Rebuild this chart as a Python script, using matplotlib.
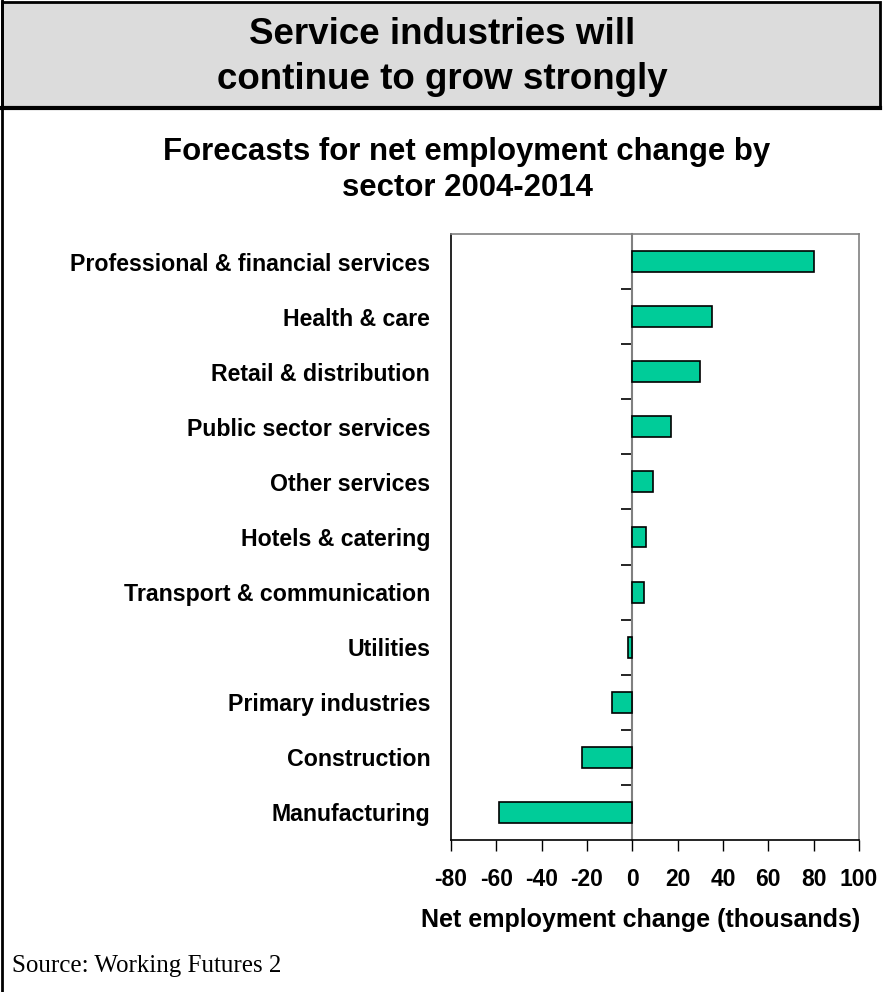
import matplotlib.pyplot as plt
from matplotlib.patches import Rectangle

plt.rcParams['font.family'] = ['Liberation Sans', 'DejaVu Sans']

sectors = [
    'Professional & financial services',
    'Health & care',
    'Retail & distribution',
    'Public sector services',
    'Other services',
    'Hotels & catering',
    'Transport & communication',
    'Utilities',
    'Primary industries',
    'Construction',
    'Manufacturing',
]
change = [80, 35, 30, 17, 9, 6, 5, -1.8, -9, -22, -59]
xticks = [-80, -60, -40, -20, 0, 20, 40, 60, 80, 100]

W, H = 883, 992
fig = plt.figure(figsize=(W / 100, H / 100), dpi=100)

# header box and page frame
fig.patches.append(Rectangle((2 / W, 1 - 108 / H), 878 / W, 106 / H,
                             transform=fig.transFigure, facecolor='#dcdcdc',
                             edgecolor='black', linewidth=2, zorder=0))
fig.lines.append(plt.Line2D([2 / W, 2 / W], [0, 1], transform=fig.transFigure,
                            color='black', linewidth=2))
fig.lines.append(plt.Line2D([2 / W, 880 / W], [1 - 108 / H] * 2,
                            transform=fig.transFigure, color='black', linewidth=3))

fig.text(442 / W, 1 - 57 / H, 'Service industries will\ncontinue to grow strongly',
         ha='center', va='center', fontsize=26.5, fontweight='bold', linespacing=1.4)
fig.text(467 / W, 1 - 170 / H, 'Forecasts for net employment change by\nsector 2004-2014',
         ha='center', va='center', fontsize=22.4, fontweight='bold', linespacing=1.3)
fig.text(12 / W, 1 - 966 / H, 'Source: Working Futures 2', ha='left', va='center',
         fontsize=18, family=['Liberation Serif', 'DejaVu Serif'])

ax = fig.add_axes([451 / W, 152 / H, 408 / W, 606 / H])
y = list(range(len(sectors)))[::-1]
ax.barh(y, change, height=0.38, color='#00cc99', edgecolor='black', linewidth=1.2, zorder=3)

ax.set_xlim(-80, 100)
ax.set_ylim(-0.5, len(sectors) - 0.5)
ax.set_xticks(xticks)
ax.set_xticklabels([str(v) for v in xticks], fontsize=16.5, fontweight='bold')
ax.tick_params(axis='x', direction='out', length=8, width=1, pad=12)
ax.set_yticks(y)
ax.set_yticklabels(sectors, fontsize=16.7, fontweight='bold')
ax.tick_params(axis='y', length=0, pad=15)

for side in ('top', 'right'):
    ax.spines[side].set_color('#808080')
for side in ('left', 'bottom'):
    ax.spines[side].set_color('black')
for sp in ax.spines.values():
    sp.set_linewidth(1.2)

# value axis crossing at zero with ticks between categories
zero = ax.secondary_yaxis(80 / 180)
zero.spines['left'].set_color('#808080')
zero.spines['left'].set_linewidth(1.5)
zero.set_yticks([v + 0.5 for v in range(len(sectors) - 1)])
zero.set_yticklabels([])
zero.tick_params(axis='y', direction='out', length=8, width=1.2, color='black')

ax.set_xlabel('Net employment change (thousands)', fontsize=18, fontweight='bold')
ax.xaxis.set_label_coords((641 - 451) / 408, -(920 - 840) / 606)
ax.xaxis.label.set_va('center')

fig.savefig('out.png', dpi=100)
